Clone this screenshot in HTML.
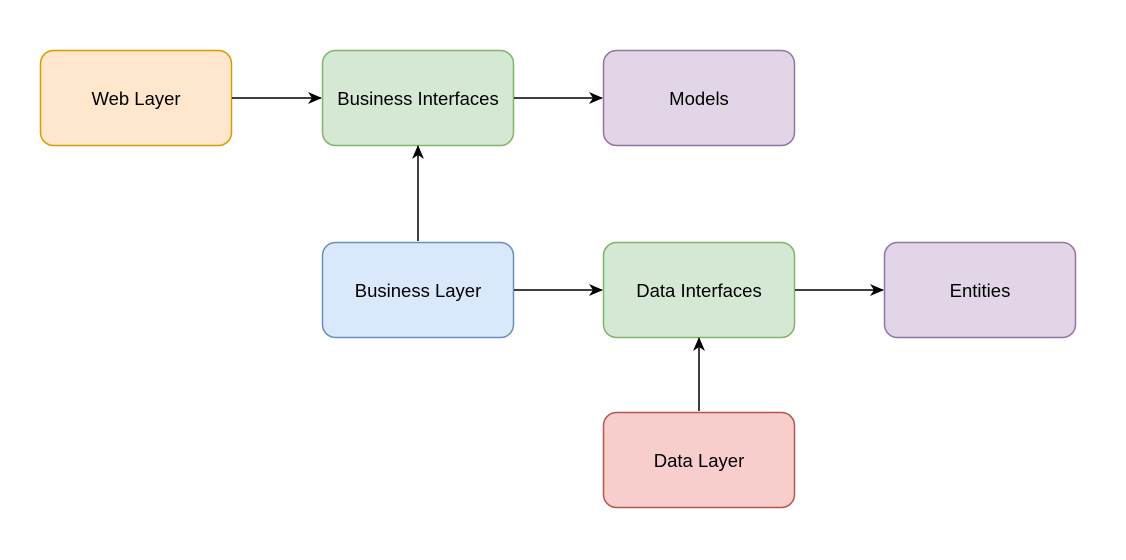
<!DOCTYPE html>
<html><head><style>html,body{margin:0;padding:0;background:#fff;}</style></head>
<body>
<svg width="1126" height="555" xmlns="http://www.w3.org/2000/svg" font-family="Liberation Sans, Arial, sans-serif" font-size="18.5">
<defs>
<marker id="a" markerWidth="14" markerHeight="14" refX="13" refY="7" orient="auto" markerUnits="userSpaceOnUse">
<path d="M0,1 L14,7 L0,13 L4,7 Z" fill="#000"/>
</marker>
</defs>
<g stroke-width="1.5">
<rect x="40.5" y="50.5" width="191" height="95" rx="13" fill="#ffe6cc" stroke="#d79b00"/>
<rect x="322.5" y="50.5" width="191" height="95" rx="13" fill="#d5e8d4" stroke="#82b366"/>
<rect x="603.5" y="50.5" width="191" height="95" rx="13" fill="#e1d5e7" stroke="#9673a6"/>
<rect x="322.5" y="242.5" width="191" height="95" rx="13" fill="#dae8fc" stroke="#6c8ebf"/>
<rect x="603.5" y="242.5" width="191" height="95" rx="13" fill="#d5e8d4" stroke="#82b366"/>
<rect x="884.5" y="242.5" width="191" height="95" rx="13" fill="#e1d5e7" stroke="#9673a6"/>
<rect x="603.5" y="412.5" width="191" height="95" rx="13" fill="#f8cecc" stroke="#b85450"/>
</g>
<g stroke="#000" stroke-width="1.5" fill="none" marker-end="url(#a)">
<line x1="232" y1="98" x2="321" y2="98"/>
<line x1="514" y1="98" x2="602" y2="98"/>
<line x1="418" y1="241" x2="418" y2="146"/>
<line x1="514" y1="290" x2="602" y2="290"/>
<line x1="795" y1="290" x2="883" y2="290"/>
<line x1="699" y1="411" x2="699" y2="338"/>
</g>
<g text-anchor="middle" fill="#000">
<text x="136" y="105">Web Layer</text>
<text x="418" y="105">Business Interfaces</text>
<text x="699" y="105">Models</text>
<text x="418" y="297">Business Layer</text>
<text x="699" y="297">Data Interfaces</text>
<text x="980" y="297">Entities</text>
<text x="699" y="467">Data Layer</text>
</g>
</svg>
</body></html>
